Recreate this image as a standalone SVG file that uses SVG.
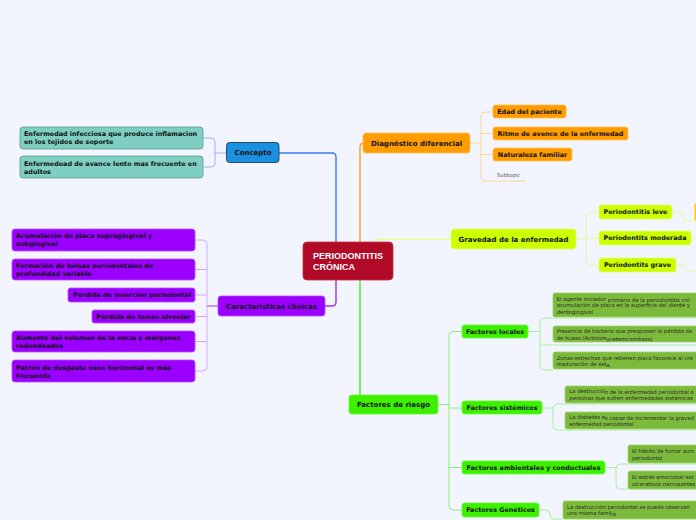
<svg xmlns="http://www.w3.org/2000/svg" width="696" height="520" viewBox="0 0 696 520">
<style>
.bg{fill:#f2f5fd}
.t{font-family:"DejaVu Sans",sans-serif;font-weight:bold;font-size:7px;fill:#111;text-anchor:middle}
.s{font-family:"DejaVu Sans",sans-serif;font-weight:bold;font-size:6.4px;fill:#111}
.sm{font-family:"DejaVu Sans",sans-serif;font-weight:bold;font-size:6.4px;fill:#111;text-anchor:middle}
.o{font-family:"DejaVu Sans",sans-serif;font-size:5.3px;fill:#2a2a2a}
.sub{font-family:"DejaVu Sans",sans-serif;font-size:5.3px;fill:#555}
.c{fill:none;stroke-linejoin:round;stroke-linecap:round}
.teal{fill:#7ecec2;stroke:#5f9c94;stroke-width:0.8}
.pur{fill:#9b00ff;stroke:#b24cff;stroke-width:0.8}
.ora{fill:#ff9d00;stroke:#ffbe50;stroke-width:0.8}
.yel{fill:#ccff00;stroke:#e0ff70;stroke-width:0.8}
.grn{fill:#3cf000;stroke:#66ff33;stroke-width:0.8}
.olv{fill:#7cba3c;stroke:#9ed468;stroke-width:0.8}
</style>
<rect class="bg" x="0" y="0" width="696" height="520"/>
<g id="connectors">
  <!-- central to main topics -->
  <path class="c" d="M336,242 L336,157 Q336,153 332,153 L279,153" stroke="#3d7af5" stroke-width="1.4"/>
  <path class="c" d="M360,242 L360,147 Q360,143 364,143" stroke="#ffa020" stroke-width="1.4"/>
  <path class="c" d="M376,242 Q376,239 380,239 L451,239" stroke="#e4ff90" stroke-width="1.4"/>
  <path class="c" d="M336,280 L336,302 Q336,306 332,306 L325,306" stroke="#a030f0" stroke-width="1.4"/>
  <path class="c" d="M360,280 L360,395" stroke="#44ee22" stroke-width="1.4"/>
  <!-- Concepto children -->
  <path class="c" d="M226,153 L215,153 M203,138 L211,138 Q215,138 215,142 L215,163 Q215,167 211,167 L203,167" stroke="#9ab0ff" stroke-width="1"/>
  <!-- Diagnostico children -->
  <path class="c" d="M470,143 L481,143 M493,112 L485,112 Q481,112 481,116 L481,177 Q481,181 485,181 L525,181 M481,133.5 L493,133.5 M481,154.5 L493,154.5" stroke="#ffd49a" stroke-width="1"/>
  <!-- Gravedad children -->
  <path class="c" d="M576,239 L586,239 M599,212 L590,212 Q586,212 586,216 L586,261 Q586,265 590,265 L599,265 M586,238 L599,238" stroke="#e6f8a0" stroke-width="1"/>
  <path class="c" d="M672,212 L679,212 Q683,212 683,216 L683,217 Q683,221 687,221 L696,221 M691,238 L696,238 M676,265 L682,265 Q686,265 686,268 Q686,271 690,271 L696,271" stroke="#e6f8a0" stroke-width="1"/>
  <!-- Caracteristicas children -->
  <path class="c" d="M218,306 L207,306" stroke="#a030f0" stroke-width="1.2"/>
  <path class="c" d="M195,240 L203,240 Q207,240 207,244 L207,367 Q207,371 203,371 L195,371 M207,269.5 L195,269.5 M207,295 L195,295 M207,316.5 L195,316.5 M207,341.5 L195,341.5" stroke="#d8a8f8" stroke-width="1"/>
  <!-- Factores de riesgo children -->
  <path class="c" d="M438,404.5 L449,404.5 M462,331.5 L453,331.5 Q449,331.5 449,335.5 L449,506 Q449,510 453,510 L462,510 M449,408 L462,408 M449,467.5 L462,467.5" stroke="#8cf07a" stroke-width="1"/>
  <!-- Factores locales children -->
  <path class="c" d="M528,331.5 L540,331.5 M696,318 L544,318 Q540,318 540,322 L540,366 Q540,370 544,370 L553,370 M540,345 L696,345" stroke="#a8f0a0" stroke-width="1"/>
  <!-- Factores sistemicos children -->
  <path class="c" d="M542,408 L553,408 M696,404 L557,404 Q553,404 553,408 L553,426 Q553,430 557,430 L696,430" stroke="#a8f0a0" stroke-width="1"/>
  <!-- Factores ambientales children -->
  <path class="c" d="M605,467.5 L616,467.5 M696,464 L620,464 Q616,464 616,468 L616,485 Q616,489 620,489 L696,489" stroke="#a8f0a0" stroke-width="1"/>
  <!-- Factores geneticos children -->
  <path class="c" d="M539,510 L546,510 Q550,510 550,514 L550,515 Q550,519 554,519 L563,519" stroke="#a8f0a0" stroke-width="1"/>
</g>
<g id="central">
  <rect x="303" y="242" width="90" height="38" rx="4" fill="#b00a27" stroke="#c83048" stroke-width="0.8"/>
  <text x="313" y="258.5" font-family="Liberation Sans, Arial, sans-serif" font-weight="bold" font-size="9" fill="#fff">PERIODONTITIS</text>
  <text x="313" y="269.5" font-family="Liberation Sans, Arial, sans-serif" font-weight="bold" font-size="9" fill="#fff">CRÓNICA</text>
</g>
<g id="concepto">
  <rect x="226.5" y="142.5" width="52.5" height="20" rx="3" fill="#1a90e0" stroke="#1c2c44" stroke-width="0.8"/>
  <text class="t" x="253" y="155.2">Concepto</text>
</g>
<g id="concepto-1">
  <rect class="teal" x="20" y="127" width="183" height="22" rx="3"/>
  <text class="s" x="24" y="135.7">Enfermedad infecciosa que produce inflamacion</text>
  <text class="s" x="24" y="143.7">en los tejidos de soporte</text>
</g>
<g id="concepto-2">
  <rect class="teal" x="20" y="156" width="183" height="22" rx="3"/>
  <text class="s" x="24" y="166">Enfermedead de avance lento mas frecuente en</text>
  <text class="s" x="24" y="174">adultos</text>
</g>
<g id="diagnostico">
  <rect class="ora" x="363" y="133" width="107" height="20" rx="3"/>
  <text class="t" x="416.5" y="145.5">Diagnóstico diferencial</text>
</g>
<g id="edad">
  <rect class="ora" x="493" y="105" width="73" height="13" rx="2.5"/>
  <text class="sm" x="529.5" y="113.8">Edad del paciente</text>
</g>
<g id="ritmo">
  <rect class="ora" x="493" y="127" width="135" height="13" rx="2.5"/>
  <text class="sm" x="560.5" y="135.8">Ritmo de avence de la enfermedad</text>
</g>
<g id="naturaleza">
  <rect class="ora" x="493" y="148" width="79" height="13" rx="2.5"/>
  <text class="sm" x="532.5" y="156.8">Naturaleza familiar</text>
</g>
<g id="subtopic">
  <text class="sub" x="497" y="177">Subtopic</text>
</g>
<g id="gravedad">
  <rect class="yel" x="451" y="229" width="125" height="20" rx="3"/>
  <text class="t" x="513.5" y="241.5">Gravedad de la enfermedad</text>
</g>
<g id="leve">
  <rect class="yel" x="599" y="205" width="73" height="14" rx="2.5"/>
  <text class="sm" x="635.5" y="214.3">Periodontitis leve</text>
</g>
<g id="leve-child">
  <rect x="694.5" y="203" width="20" height="18" rx="2" fill="#ffcc00"/>
</g>
<g id="moderada">
  <rect class="yel" x="599" y="231" width="92" height="14" rx="2.5"/>
  <text class="sm" x="645" y="240.3">Periodontits moderada</text>
</g>
<g id="grave">
  <rect class="yel" x="599" y="258" width="77" height="14" rx="2.5"/>
  <text class="sm" x="637.5" y="267.3">Periodontits grave</text>
</g>
<g id="caracteristicas">
  <rect class="pur" x="218" y="296" width="107" height="20" rx="3"/>
  <text class="t" x="271.5" y="308.5">Caracteristicas clinicas</text>
</g>
<g id="car-1">
  <rect class="pur" x="12" y="229" width="183" height="22" rx="3"/>
  <text class="s" x="16" y="238">Acumulación de placa supragingival y</text>
  <text class="s" x="16" y="246">subgingival</text>
</g>
<g id="car-2">
  <rect class="pur" x="12" y="259" width="183" height="21" rx="3"/>
  <text class="s" x="16" y="267.6">Formación de bolsas periodontales de</text>
  <text class="s" x="16" y="275.6">profundidad variable</text>
</g>
<g id="car-3">
  <rect class="pur" x="68" y="288" width="127" height="14" rx="2.5"/>
  <text class="s" x="73" y="296.8">Pérdida de inserción periodontal</text>
</g>
<g id="car-4">
  <rect class="pur" x="92" y="310" width="103" height="13" rx="2.5"/>
  <text class="s" x="96.3" y="318.8">Pérdida de hueso alveolar</text>
</g>
<g id="car-5">
  <rect class="pur" x="12" y="331" width="183" height="21" rx="3"/>
  <text class="s" x="16" y="340">Aumento del volumen de la encía y márgenes</text>
  <text class="s" x="16" y="348">redondeados</text>
</g>
<g id="car-6">
  <rect class="pur" x="12" y="360" width="183" height="22" rx="3"/>
  <text class="s" x="16" y="369.6">Patrón de desgaste óseo horizontal es más</text>
  <text class="s" x="16" y="377.6">frecuente</text>
</g>
<g id="riesgo">
  <rect class="grn" x="349" y="395" width="89" height="19" rx="3"/>
  <text class="t" x="393.5" y="407">Factores de riesgo</text>
</g>
<g id="locales">
  <rect class="grn" x="462" y="325" width="66" height="13" rx="2.5"/>
  <text class="sm" x="495" y="333.8">Factores locales</text>
</g>
<g id="sistemicos">
  <rect class="grn" x="462" y="401" width="80" height="13" rx="2.5"/>
  <text class="sm" x="502" y="409.8">Factores sistémicos</text>
</g>
<g id="ambientales">
  <rect class="grn" x="462" y="461" width="143" height="13" rx="2.5"/>
  <text class="sm" x="533.5" y="469.8">Factores ambientales y conductuales</text>
</g>
<g id="geneticos">
  <rect class="grn" x="462" y="503" width="77" height="14" rx="2.5"/>
  <text class="sm" x="500.5" y="512.3">Factores Genéticos</text>
</g>
<g id="loc-1">
  <rect class="olv" x="553" y="293" width="170" height="24" rx="2"/>
  <text class="o" x="556.7" y="300.8">El agente iniciador <tspan dy="1">primario de la periodontitis cró</tspan></text>
  <text class="o" x="556.7" y="307.3">acumulación de placa en la superficie del diente y</text>
  <text class="o" x="556.7" y="313.6">dentogingival</text>
</g>
<g id="loc-2">
  <rect class="olv" x="553" y="326" width="170" height="16" rx="2"/>
  <text class="o" x="556.7" y="333.4">Presencia de bacteria que preoponen la pérdida de</text>
  <text class="o" x="556.7" y="339.6">de hueso (Actinom<tspan dy="1">ycetemcomitans)</tspan></text>
</g>
<g id="loc-3">
  <rect class="olv" x="553" y="352" width="170" height="17" rx="2"/>
  <text class="o" x="556.7" y="359.6">Zonas estrechas que retienen placa favorece al cre</text>
  <text class="o" x="556.7" y="365.8">maduración de est<tspan dy="1">a.</tspan></text>
</g>
<g id="sis-1">
  <rect class="olv" x="565" y="386" width="160" height="17" rx="2"/>
  <text class="o" x="569.3" y="392.6">La destrucció<tspan dy="1">n de la enfermedad periodontal a</tspan></text>
  <text class="o" x="569.3" y="400">personas que sufren enfermedades sistémicas</text>
</g>
<g id="sis-2">
  <rect class="olv" x="565" y="412" width="160" height="17" rx="2"/>
  <text class="o" x="569.3" y="418.6">La diabetes e<tspan dy="1">s capaz de incrementar la graved</tspan></text>
  <text class="o" x="569.3" y="425.6">enfermedad periodontal</text>
</g>
<g id="amb-1">
  <rect class="olv" x="628" y="445" width="100" height="18" rx="2"/>
  <text class="o" x="632" y="453">El hábito de fumar aum</text>
  <text class="o" x="632" y="459.6">periodontal</text>
</g>
<g id="amb-2">
  <rect class="olv" x="628" y="471" width="100" height="18" rx="2"/>
  <text class="o" x="632" y="479.3">El estrés emocional est</text>
  <text class="o" x="632" y="485.6">ulcerativos necrosantes</text>
</g>
<g id="gen-1">
  <rect class="olv" x="563" y="501" width="160" height="18" rx="2"/>
  <text class="o" x="567" y="508.6">La destrucción periodontal se puede observan</text>
  <text class="o" x="567" y="515">una misma famil<tspan dy="1">ia</tspan></text>
</g>
</svg>
